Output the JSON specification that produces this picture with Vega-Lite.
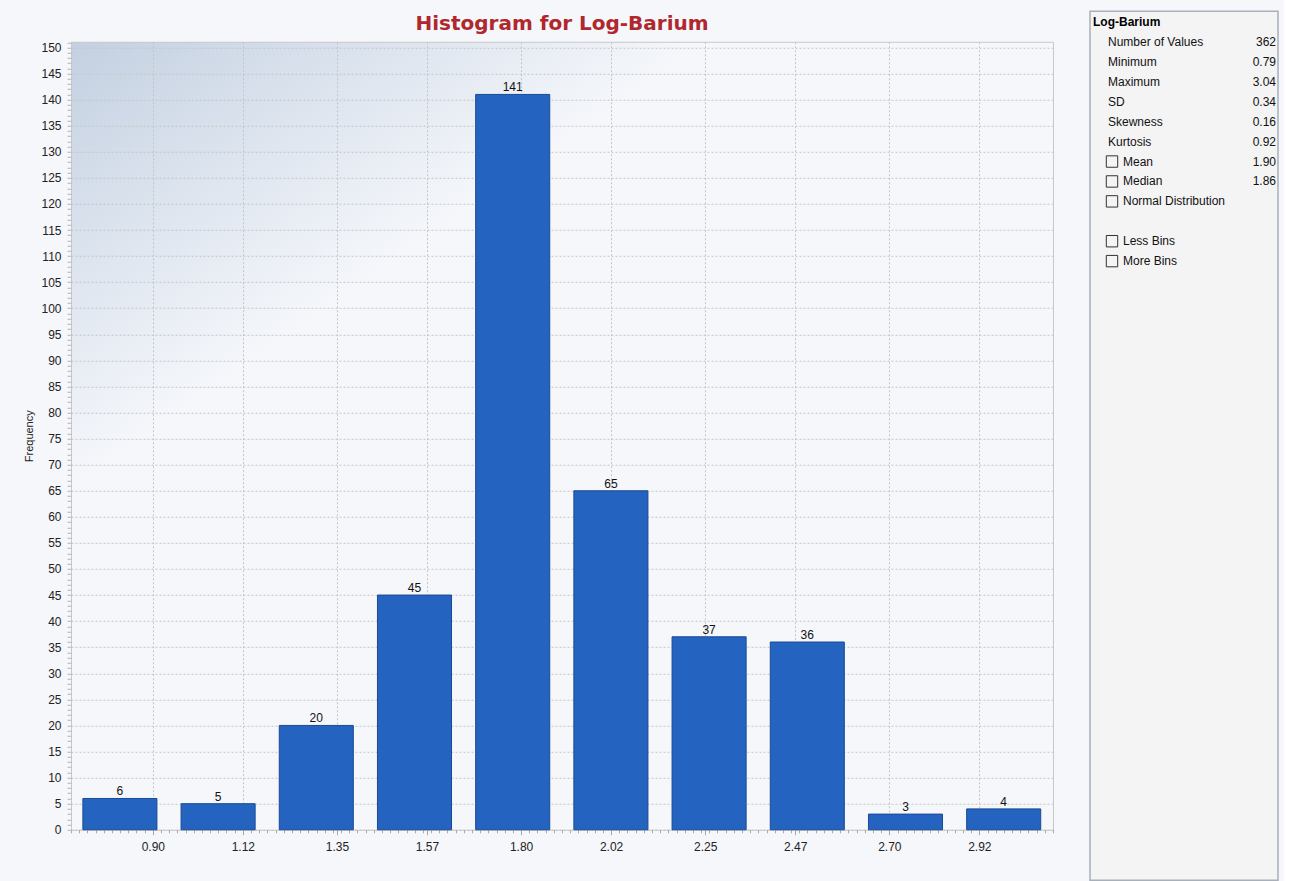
{
  "$schema": "https://vega.github.io/schema/vega-lite/v6.json",
  "background": "#f5f7fb",
  "padding": {"left": 23, "top": 10, "right": 5, "bottom": 0},
  "config": {"font": "Liberation Sans", "view": {"stroke": null}},
  "spacing": 35,
  "center": true,
  "hconcat": [
    {
      "width": 982,
      "height": 788,
      "title": {"text": "Histogram for Log-Barium", "font": "DejaVu Sans", "fontSize": 20, "fontWeight": "bold", "color": "#b0282e", "offset": 7.5, "anchor": "middle"},
      "view": {
        "fill": {"gradient": "linear", "x1": 0, "y1": 0, "x2": 0.28, "y2": 0.32, "stops": [{"offset": 0, "color": "#c3d0e1"}, {"offset": 1, "color": "#f5f7fb"}]},
        "stroke": "#c8c8c8",
        "strokeWidth": 1
      },
      "data": {
        "values": [
          {"bin_start": 0.729, "bin_end": 0.910, "bin_mid": 0.8195, "count": 6},
          {"bin_start": 0.969, "bin_end": 1.150, "bin_mid": 1.0595, "count": 5},
          {"bin_start": 1.209, "bin_end": 1.390, "bin_mid": 1.2995, "count": 20},
          {"bin_start": 1.449, "bin_end": 1.630, "bin_mid": 1.5395, "count": 45},
          {"bin_start": 1.689, "bin_end": 1.870, "bin_mid": 1.7795, "count": 141},
          {"bin_start": 1.929, "bin_end": 2.110, "bin_mid": 2.0195, "count": 65},
          {"bin_start": 2.169, "bin_end": 2.350, "bin_mid": 2.2595, "count": 37},
          {"bin_start": 2.409, "bin_end": 2.590, "bin_mid": 2.4995, "count": 36},
          {"bin_start": 2.649, "bin_end": 2.830, "bin_mid": 2.7395, "count": 3},
          {"bin_start": 2.889, "bin_end": 3.070, "bin_mid": 2.9795, "count": 4}
        ]
      },
      "layer": [
        {
          "mark": {"type": "point", "opacity": 0},
          "encoding": {
            "x": {"field": "bin_mid", "type": "quantitative", "scale": {"domain": [0.7, 3.1], "nice": false, "zero": false, "padding": 0},
              "axis": {"orient": "bottom", "tickCount": 120, "labels": false, "grid": false, "domain": false, "ticks": true, "tickSize": 3, "tickColor": "#a8a8a8", "title": null}},
            "y": {"field": "count", "type": "quantitative", "scale": {"domain": [0, 151.1], "nice": false, "padding": 0},
              "axis": {"orient": "left", "tickCount": 150, "labels": false, "grid": false, "domain": false, "ticks": true, "tickSize": 4, "tickColor": "#b4b4b4", "title": null}}
          }
        },
        {
          "mark": {"type": "bar", "orient": "vertical", "color": "#2563c1", "stroke": "#1b4a94", "strokeWidth": 1},
          "encoding": {
            "x": {"field": "bin_start", "type": "quantitative", "scale": {"domain": [0.7, 3.1], "nice": false, "zero": false, "padding": 0},
              "axis": {"orient": "bottom", "values": [0.90, 1.12, 1.35, 1.57, 1.80, 2.02, 2.25, 2.47, 2.70, 2.92], "format": ".2f", "grid": true, "gridColor": "#c4c4c4", "gridDash": [2, 2], "domain": false, "tickSize": 5, "tickColor": "#a8a8a8", "labelPadding": 7, "labelFontSize": 12, "labelColor": "#222222", "title": null}},
            "x2": {"field": "bin_end"},
            "y": {"field": "count", "type": "quantitative", "scale": {"domain": [0, 151.1], "nice": false, "padding": 0},
              "axis": {"orient": "left", "values": [0, 5, 10, 15, 20, 25, 30, 35, 40, 45, 50, 55, 60, 65, 70, 75, 80, 85, 90, 95, 100, 105, 110, 115, 120, 125, 130, 135, 140, 145, 150], "grid": true, "gridColor": "#c4c4c4", "gridDash": [2, 2], "domain": false, "ticks": false, "tickSize": 0, "labelPadding": 10, "labelFontSize": 12, "labelColor": "#222222",
                "title": "Frequency", "titleFontSize": 11, "titleFontWeight": "normal", "titleColor": "#222222", "titlePadding": 6}},
            "y2": {"datum": 0}
          }
        },
        {
          "mark": {"type": "text", "fontSize": 12, "color": "#111111", "baseline": "alphabetic", "dy": -3},
          "encoding": {
            "x": {"field": "bin_mid", "type": "quantitative", "axis": null},
            "y": {"field": "count", "type": "quantitative", "axis": null},
            "text": {"field": "count"}
          }
        }
      ],
      "resolve": {"axis": {"x": "independent", "y": "independent"}}
    },
    {
      "width": 188,
      "height": 869,
      "view": {"fill": "#f4f4f4", "stroke": "#a8b0bc", "strokeWidth": 1.5},
      "data": {
        "values": [
          {"row": 0, "item": "Log-Barium", "value": "", "kind": "head"},
          {"row": 1, "item": "Number of Values", "value": "362", "kind": "stat"},
          {"row": 2, "item": "Minimum", "value": "0.79", "kind": "stat"},
          {"row": 3, "item": "Maximum", "value": "3.04", "kind": "stat"},
          {"row": 4, "item": "SD", "value": "0.34", "kind": "stat"},
          {"row": 5, "item": "Skewness", "value": "0.16", "kind": "stat"},
          {"row": 6, "item": "Kurtosis", "value": "0.92", "kind": "stat"},
          {"row": 7, "item": "Mean", "value": "1.90", "kind": "check"},
          {"row": 8, "item": "Median", "value": "1.86", "kind": "check"},
          {"row": 9, "item": "Normal Distribution", "value": "", "kind": "check"},
          {"row": 11, "item": "Less Bins", "value": "", "kind": "check"},
          {"row": 12, "item": "More Bins", "value": "", "kind": "check"}
        ]
      },
      "encoding": {
        "y": {"field": "row", "type": "quantitative", "scale": {"domain": [0, 12], "range": [11, 250], "nice": false, "zero": false}, "axis": null},
        "x": {"datum": "left", "type": "nominal", "scale": {"type": "point", "domain": ["left", "right"], "range": [0, 188], "padding": 0},
          "axis": {"orient": "bottom", "labels": false, "domain": false, "grid": false, "ticks": true, "tickSize": 3, "tickOpacity": 0, "title": null}}
      },
      "layer": [
        {
          "transform": [{"filter": "datum.kind === 'head'"}],
          "mark": {"type": "text", "align": "left", "baseline": "middle", "dx": 3, "fontSize": 12, "fontWeight": "bold", "color": "#000000"},
          "encoding": {"text": {"field": "item"}}
        },
        {
          "transform": [{"filter": "datum.kind === 'stat'"}],
          "mark": {"type": "text", "align": "left", "baseline": "middle", "dx": 18, "fontSize": 12, "color": "#111111"},
          "encoding": {"text": {"field": "item"}}
        },
        {
          "transform": [{"filter": "datum.kind === 'check'"}],
          "mark": {"type": "point", "shape": "square", "size": 130, "filled": false, "stroke": "#333333", "strokeWidth": 1, "opacity": 1, "xOffset": 22}
        },
        {
          "transform": [{"filter": "datum.kind === 'check'"}],
          "mark": {"type": "text", "align": "left", "baseline": "middle", "dx": 33, "fontSize": 12, "color": "#111111"},
          "encoding": {"text": {"field": "item"}}
        },
        {
          "transform": [{"filter": "datum.value !== ''"}],
          "mark": {"type": "text", "align": "right", "baseline": "middle", "dx": -2, "fontSize": 12, "color": "#111111"},
          "encoding": {"x": {"datum": "right", "type": "nominal"}, "text": {"field": "value"}}
        }
      ]
    }
  ]
}
